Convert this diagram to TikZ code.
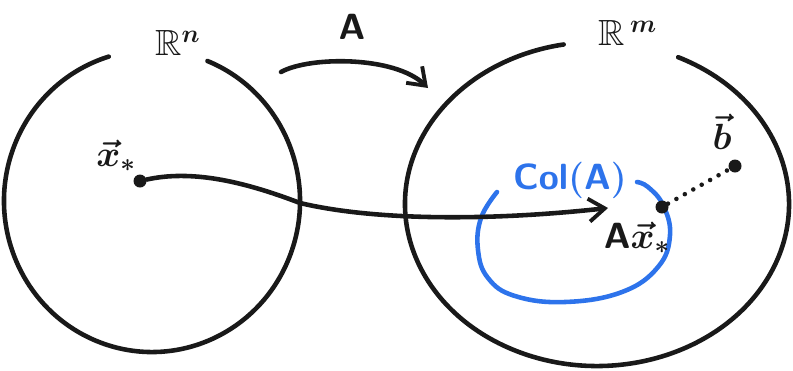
\documentclass[tikz,border=0pt]{standalone}
\usepackage{amsmath}
\usepackage{amssymb}
\usepackage{xcolor}
\usepackage{tikz}
\usetikzlibrary{positioning,arrows.meta,calc}
\definecolor{colblue}{RGB}{45,115,235}

\begin{document}
\begin{tikzpicture}[
  x=0.02cm, y=0.02cm,
  pen/.style={line width=2.6pt, line cap=round, black!90},
  bluepen/.style={line width=2.6pt, line cap=round, colblue},
  arr/.style={pen, -{Straight Barb[length=3.2mm, width=4.6mm, line width=2.2pt]}},
  dot/.style={circle, fill=black!90, inner sep=0pt, minimum size=2.6mm},
  lab/.style={font=\huge\boldmath, inner sep=1pt, black!90},
]
\useasboundingbox (0,0) rectangle (793,370);

% the two spaces, each drawn as an open ellipse with a gap for its label
\draw[pen] ($(152,169)+(68:148 and 151)$) arc[start angle=68, end angle=-253, x radius=148, y radius=151];
\draw[pen] ($(597,166)+(65:192 and 162)$) arc[start angle=65, end angle=-260, x radius=192, y radius=162];
\node[lab] (rn) at (178,327) {$\mathbb{R}^{n}$};
\node[lab] (rm) at (628,337) {$\mathbb{R}^{\,m}$};

% the map A between them
\coordinate (a1) at (281,298);
\coordinate (a2) at (428,282);
\draw[arr] (a1) .. controls (310,314) and (395,314) .. (a2);
\node[lab] (amap) at (352,343) {$\mathsf{A}$};

% column space of A inside R^m
\draw[bluepen] plot[smooth, tension=0.7] coordinates {(497,178) (481,152) (478,120) (488,92) (515,74) (565,68) (622,78) (658,103) (670,135) (663,165) (648,183) (637,188)};
\node[lab, colblue] (col) at (570,190) {$\mathsf{Col(A)}$};

% points and their labels
\node[dot] (xs) at (140,189) {};
\node[lab] (xslab) at (116,214) {$\vec{x}_{*}$};
\node[dot] (axs) at (662,163) {};
\node[lab] (axslab) at (637,132) {$\mathsf{A}\vec{x}_{*}$};
\node[dot] (bpt) at (735,204) {};
\node[lab] (blab) at (722,238) {$\vec{b}$};

% x_* is sent to A x_*, b lies off the column space
\coordinate (xend) at (608,162);
\draw[arr] (xs) .. controls (190,200) and (240,190) .. (300,167) .. controls (380,148) and (500,150) .. (xend);
\draw[pen, dash pattern=on 0pt off 5.5pt] (axs) -- (bpt);
\end{tikzpicture}
\end{document}
